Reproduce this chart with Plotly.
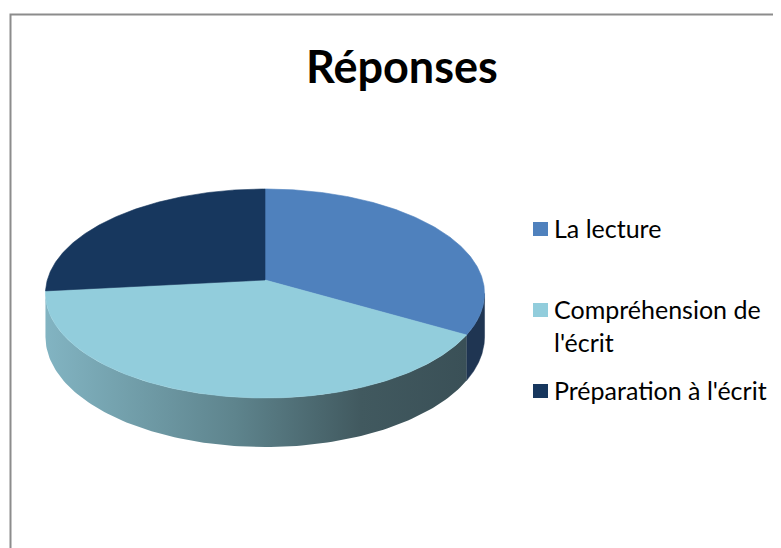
import numpy as np
import plotly.graph_objects as go

# ---- data ----
labels = ["La lecture", "Compréhension de l'écrit", "Préparation à l'écrit"]
legend_text = ["La lecture", "Compréhension de<br>l'écrit", "Préparation à l'écrit"]
values = [5, 6, 4]
top_colors = ["#4F81BD", "#92CDDC", "#17375E"]
side_colors = ["#1F3552", None, "#0F2540"]
side_gradient = [[0, "#82B4C2"], [0.45, "#5E848D"], [0.75, "#41595F"], [1, "#3A5057"]]
title = "Réponses"

# ---- page geometry (browser body has an 8px margin) ----
W, H = 781, 548
OFF = 8

# ---- 3D pie projection (pixel-space axes) ----
cx, b = 265.0, 280.0      # projected pie centre
s, a, c = 217.7, -66.6, 0.1292   # horizontal scale, depth->y, perspective
d0 = 42.7                 # thickness


def proj(theta_deg, drop=0.0):
    t = np.radians(theta_deg)
    X, Z = np.sin(t), np.cos(t)
    w = 1 + c * Z
    return cx + s * X / w, (a * Z + b) / w + drop * d0 / w


th_r = np.degrees(np.arccos(-c))
th_l = 360 - th_r

total = sum(values)
bounds = np.concatenate([[0], np.cumsum(values) / total * 360])

fig = go.Figure()

# side walls
for i in range(len(values)):
    t0, t1 = max(bounds[i], th_r), min(bounds[i + 1], th_l)
    if t1 <= t0:
        continue
    th = np.linspace(t0, t1, 120)
    xt, yt = proj(th)
    xb, yb = proj(th[::-1], 1.0)
    xs = np.concatenate([xt, xb, xt[:1]])
    ys = np.concatenate([yt, yb, yt[:1]])
    if side_colors[i] is None:
        fig.add_trace(go.Scatter(x=xs, y=ys, mode="lines", fill="toself",
                                 line=dict(width=0),
                                 fillgradient=dict(type="horizontal", colorscale=side_gradient),
                                 hoverinfo="skip", showlegend=False))
    else:
        fig.add_trace(go.Scatter(x=xs, y=ys, mode="lines", fill="toself",
                                 line=dict(width=0.5, color=side_colors[i]),
                                 fillcolor=side_colors[i],
                                 hoverinfo="skip", showlegend=False))

# top faces
for i in range(len(values)):
    th = np.linspace(bounds[i], bounds[i + 1], 200)
    xr, yr = proj(th)
    xs = np.concatenate([[cx], xr, [cx]])
    ys = np.concatenate([[b], yr, [b]])
    fig.add_trace(go.Scatter(x=xs, y=ys, mode="lines", fill="toself",
                             line=dict(width=0.6, color=top_colors[i]),
                             fillcolor=top_colors[i], name=labels[i],
                             hoverinfo="name", showlegend=False))

# legend (drawn manually to match layout)
leg_y = [229, 310, 391]
for i, txt in enumerate(legend_text):
    fig.add_shape(type="rect", x0=533, x1=548, y0=leg_y[i] - 7, y1=leg_y[i] + 7,
                  fillcolor=top_colors[i], line=dict(width=0))
    fig.add_annotation(x=552, y=leg_y[i] - 18, text=txt, showarrow=False,
                       xanchor="left", yanchor="top", align="left",
                       font=dict(family="Lato", size=25, color="#000000"))

fig.add_annotation(x=402, y=66, text="<b>" + title + "</b>", showarrow=False,
                   xanchor="center", yanchor="middle",
                   font=dict(family="Lato", size=45, color="#000000"))

# chart-area border
fig.add_shape(type="rect", x0=10.5, x1=W + 10, y0=14.5, y1=H + 10,
              line=dict(color="#8C8C8C", width=2), fillcolor="rgba(0,0,0,0)")

fig.update_xaxes(range=[OFF, W], visible=False, fixedrange=True)
fig.update_yaxes(range=[H, OFF], visible=False, fixedrange=True)
fig.update_layout(width=W - OFF, height=H - OFF, margin=dict(l=0, r=0, t=0, b=0),
                  paper_bgcolor="white", plot_bgcolor="white",
                  showlegend=False)

fig.write_html("out.html")
